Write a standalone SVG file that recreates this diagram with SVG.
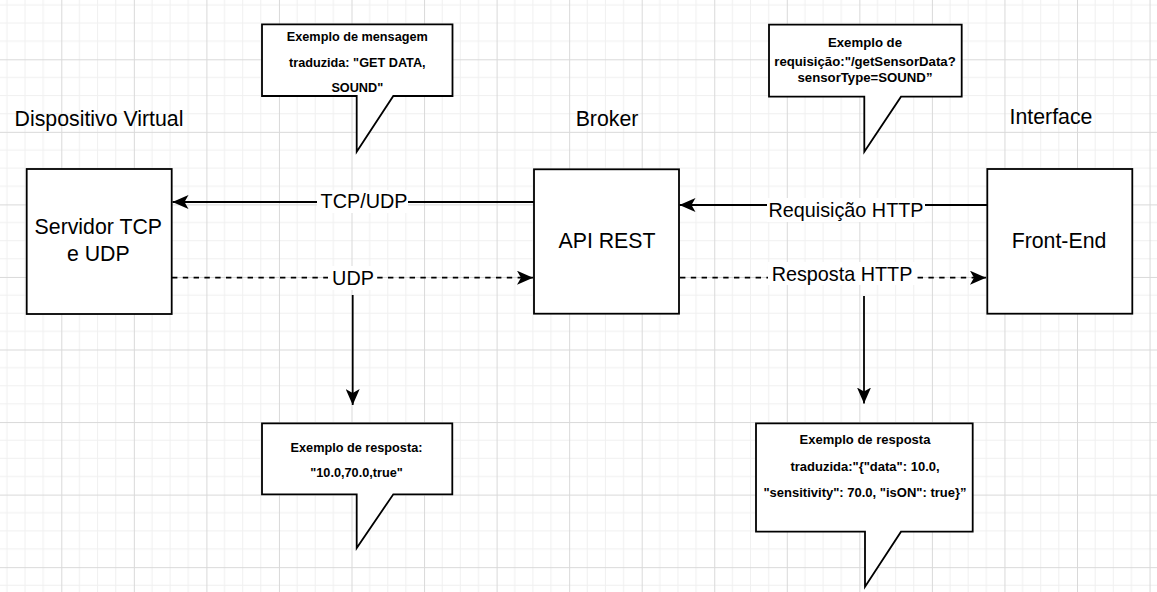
<svg xmlns="http://www.w3.org/2000/svg" width="1157" height="592" viewBox="0 0 1157 592">
<style>
.box{fill:#fff;stroke:#000;stroke-width:1.8}
.call{fill:#fff;stroke:#000;stroke-width:1.8;stroke-linejoin:miter}
.hdr{font-family:"Liberation Sans",Arial,sans-serif;font-size:21.3px;fill:#000;text-anchor:middle}
.lbl{font-family:"Liberation Sans",Arial,sans-serif;font-size:19.8px;fill:#000;text-anchor:middle}
.ct{font-family:"Liberation Sans",Arial,sans-serif;font-size:12.7px;font-weight:bold;fill:#000;text-anchor:middle}
.ct2{font-family:"Liberation Sans",Arial,sans-serif;font-size:13.2px;font-weight:bold;fill:#000;text-anchor:middle}
.ct3{font-family:"Liberation Sans",Arial,sans-serif;font-size:13px;font-weight:bold;fill:#000;text-anchor:middle}
.ln{fill:none;stroke:#000;stroke-width:1.8}
.dash{stroke-dasharray:5.4 5.4}
.bg{fill:#fff}
</style>
<defs>
<pattern id="grid" width="72.55" height="72.55" patternUnits="userSpaceOnUse" x="61.3" y="59.3">
<path d="M18.14,0V72.55M36.28,0V72.55M54.41,0V72.55M0,18.14H72.55M0,36.28H72.55M0,54.41H72.55" stroke="#f0f0f0" stroke-width="1" fill="none"/>
<path d="M0.5,0V72.55M0,0.5H72.55" stroke="#d9d9d9" stroke-width="1" fill="none"/>
</pattern>
<marker id="arr" viewBox="0 0 16 14" refX="16" refY="7" markerWidth="16" markerHeight="14" markerUnits="userSpaceOnUse" orient="auto">
<path d="M0,0 L16,7 L0,14 L4,7 Z" fill="#000"/>
</marker>
</defs>
<rect width="1157" height="592" fill="#fff"/>
<rect width="1157" height="592" fill="url(#grid)"/>

<g id="headers">
<text class="hdr" x="99" y="126">Dispositivo Virtual</text>
<text class="hdr" x="607" y="126">Broker</text>
<text class="hdr" x="1051" y="124">Interface</text>
</g>

<g id="connectors">
<line class="ln" x1="534" y1="202" x2="172.5" y2="202" marker-end="url(#arr)"/>
<line class="ln dash" x1="172" y1="277.7" x2="533" y2="277.7" marker-end="url(#arr)"/>
<line class="ln" x1="987" y1="205" x2="679.5" y2="205" marker-end="url(#arr)"/>
<line class="ln dash" x1="680" y1="277.7" x2="986" y2="277.7" marker-end="url(#arr)"/>
<line class="ln" x1="352.7" y1="295" x2="352.7" y2="405" marker-end="url(#arr)"/>
<line class="ln" x1="864" y1="296" x2="864" y2="403.5" marker-end="url(#arr)"/>
<rect class="bg" x="317" y="190" width="91" height="23"/>
<text class="lbl" x="364" y="208">TCP/UDP</text>
<rect class="bg" x="328" y="266" width="49" height="24"/>
<text class="lbl" x="353" y="285">UDP</text>
<rect class="bg" x="767" y="198" width="158" height="24"/>
<text class="lbl" x="846" y="217.3">Requisição HTTP</text>
<rect class="bg" x="768" y="262" width="149" height="23"/>
<text class="lbl" x="842" y="280.7">Resposta HTTP</text>
</g>

<g id="servidor">
<rect class="box" x="26.7" y="169" width="145" height="145"/>
<text class="hdr" x="98.3" y="234.3">Servidor TCP</text>
<text class="hdr" x="98.3" y="260.7">e UDP</text>
</g>

<g id="api">
<rect class="box" x="534" y="169.3" width="145" height="144.4"/>
<text class="hdr" x="607" y="247.7">API REST</text>
</g>

<g id="frontend">
<rect class="box" x="987.3" y="169" width="145" height="144.7"/>
<text class="hdr" x="1059" y="247.7">Front-End</text>
</g>

<g id="callout-msg">
<path class="call" d="M262,24.3 H452.5 V96 H393.3 L356.7,151.7 V96 H262 Z"/>
<text class="ct" x="357.3" y="40.7">Exemplo de mensagem</text>
<text class="ct" x="357.3" y="66.7">traduzida: "GET DATA,</text>
<text class="ct" x="357.3" y="92.3">SOUND"</text>
</g>

<g id="callout-req">
<path class="call" d="M769,24.7 H961.7 V96.7 H901 L864.3,151.7 V96.7 H769 Z"/>
<text class="ct2" x="865" y="46.7">Exemplo de</text>
<text class="ct2" x="865" y="65.7">requisição:"/getSensorData?</text>
<text class="ct2" x="865" y="82.3">sensorType=SOUND”</text>
</g>

<g id="callout-resp1">
<path class="call" d="M262,423.3 H452.3 V494.3 H393.3 L356.7,548 V494.3 H262 Z"/>
<text class="ct" x="356.5" y="452.3">Exemplo de resposta:</text>
<text class="ct" x="356.5" y="476.7">"10.0,70.0,true"</text>
</g>

<g id="callout-resp2">
<path class="call" d="M756,423.3 H972.7 V531.7 H901 L865,586.7 V531.7 H756 Z"/>
<text class="ct3" x="865" y="444.3">Exemplo de resposta</text>
<text class="ct3" x="865" y="471">traduzida:"{"data": 10.0,</text>
<text class="ct3" x="865" y="496.7">"sensitivity": 70.0, "isON": true}”</text>
</g>
</svg>
